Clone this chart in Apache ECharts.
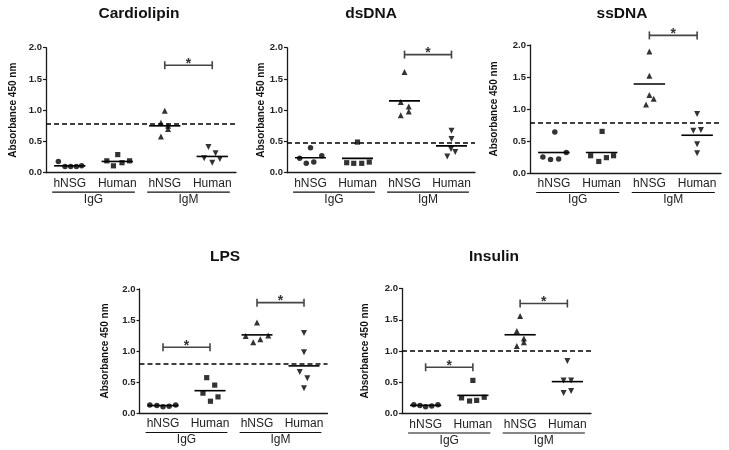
<!DOCTYPE html>
<html>
<head>
<meta charset="utf-8">
<script src="https://cdn.jsdelivr.net/npm/echarts@6/dist/echarts.min.js"></script>
<style>html,body{margin:0;padding:0;background:#fff}#c{width:729px;height:450px}</style>
</head>
<body>
<div id="c"></div>
<script>
// ---------- data ----------
const panelTitles = ['Cardiolipin', 'dsDNA', 'ssDNA', 'LPS', 'Insulin'];
const categories = ['hNSG', 'Human', 'hNSG', 'Human'];
const groupLabels = ['IgG', 'IgM'];
const yAxisName = 'Absorbance 450 nm';
const yTicks = [0.0, 0.5, 1.0, 1.5, 2.0];

// order of groups: hNSG IgG, Human IgG, hNSG IgM, Human IgM
const cardiolipinValues = [
  [0.18, 0.10, 0.10, 0.10, 0.11],
  [0.19, 0.11, 0.29, 0.16, 0.19],
  [0.99, 0.80, 0.75, 0.70, 0.58],
  [0.41, 0.31, 0.23, 0.22, 0.16]
];
const cardiolipinJitter = [
  [-0.24, -0.10, 0.02, 0.14, 0.25],
  [-0.22, -0.08, 0.01, 0.10, 0.26],
  [0.00, -0.08, 0.07, 0.07, -0.08],
  [-0.08, 0.07, -0.17, 0.16, 0.00]
];
const cardiolipinMeans = [0.11, 0.18, 0.75, 0.26];
const cardiolipinCutoff = 0.78;
const cardiolipinSig = [[2, 3, 1.72]];

const dsDNAValues = [
  [0.23, 0.40, 0.15, 0.17, 0.27],
  [0.49, 0.16, 0.15, 0.15, 0.17],
  [1.61, 1.13, 1.06, 0.98, 0.92],
  [0.67, 0.54, 0.38, 0.33, 0.26]
];
const dsDNAJitter = [
  [-0.23, 0.00, -0.09, 0.07, 0.24],
  [0.00, -0.23, -0.08, 0.09, 0.25],
  [0.00, -0.08, 0.09, 0.09, -0.08],
  [0.00, 0.00, -0.01, 0.08, -0.09]
];
const dsDNAMeans = [0.24, 0.23, 1.15, 0.43];
const dsDNACutoff = 0.48;
const dsDNASig = [[2, 3, 1.89]];

const ssDNAValues = [
  [0.64, 0.25, 0.21, 0.22, 0.32],
  [0.65, 0.27, 0.18, 0.24, 0.27],
  [1.90, 1.52, 1.22, 1.16, 1.07],
  [0.92, 0.66, 0.67, 0.45, 0.31]
];
const ssDNAJitter = [
  [0.02, -0.23, -0.07, 0.10, 0.26],
  [0.01, -0.23, -0.06, 0.10, 0.25],
  [0.00, 0.00, 0.00, 0.09, -0.07],
  [0.00, -0.08, 0.08, 0.00, 0.00]
];
const ssDNAMeans = [0.32, 0.32, 1.39, 0.59];
const ssDNACutoff = 0.78;
const ssDNASig = [[2, 3, 2.15]];

const lpsValues = [
  [0.13, 0.12, 0.10, 0.11, 0.13],
  [0.57, 0.45, 0.32, 0.26, 0.19],
  [1.46, 1.24, 1.25, 1.19, 1.14],
  [1.29, 0.98, 0.66, 0.56, 0.40]
];
const lpsJitter = [
  [-0.28, -0.13, 0.00, 0.13, 0.27],
  [-0.07, 0.10, -0.15, 0.17, 0.01],
  [0.00, -0.24, 0.24, 0.07, -0.08],
  [0.00, 0.00, -0.09, 0.07, 0.00]
];
const lpsMeans = [0.12, 0.36, 1.26, 0.76];
const lpsCutoff = 0.80;
const lpsSig = [[0, 1, 1.06], [2, 3, 1.78]];

const insulinValues = [
  [0.14, 0.13, 0.11, 0.12, 0.14],
  [0.53, 0.25, 0.20, 0.21, 0.26],
  [1.56, 1.32, 1.20, 1.14, 1.08],
  [0.84, 0.53, 0.53, 0.33, 0.36]
];
const insulinJitter = [
  [-0.25, -0.12, 0.00, 0.13, 0.26],
  [0.00, -0.24, -0.07, 0.08, 0.24],
  [0.00, -0.07, 0.08, 0.08, -0.07],
  [0.00, -0.08, 0.08, -0.08, 0.08]
];
const insulinMeans = [0.13, 0.29, 1.26, 0.51];
const insulinCutoff = 1.01;
const insulinSig = [[0, 1, 0.74], [2, 3, 1.76]];

// ---------- layout ----------
const panelData = [
  {values: cardiolipinValues, jitter: cardiolipinJitter, means: cardiolipinMeans, cutoff: cardiolipinCutoff, sig: cardiolipinSig},
  {values: dsDNAValues, jitter: dsDNAJitter, means: dsDNAMeans, cutoff: dsDNACutoff, sig: dsDNASig},
  {values: ssDNAValues, jitter: ssDNAJitter, means: ssDNAMeans, cutoff: ssDNACutoff, sig: ssDNASig},
  {values: lpsValues, jitter: lpsJitter, means: lpsMeans, cutoff: lpsCutoff, sig: lpsSig},
  {values: insulinValues, jitter: insulinJitter, means: insulinMeans, cutoff: insulinCutoff, sig: insulinSig}
];
const grids = [
  {left: 46, top: 47.7, width: 190, height: 125},
  {left: 287, top: 47.7, width: 188, height: 125},
  {left: 530, top: 45, width: 191, height: 128},
  {left: 139.5, top: 289, width: 188, height: 124},
  {left: 402, top: 288.5, width: 189, height: 125}
];
const titlePos = [[134, 1], [366, 1], [617, 1], [220, 244], [489, 244]];
const nameGaps = [28, 19, 31, 29, 32];

const FONT = 'Liberation Sans, Arial, Helvetica, sans-serif';
const INK = '#1a1a1a';
const symbols = [
  {symbol: 'circle', size: 5.5, rotate: 0},
  {symbol: 'rect', size: 5.2, rotate: 0},
  {symbol: 'triangle', size: 6, rotate: 0},
  {symbol: 'triangle', size: 6, rotate: 180}
];

const option = {
  backgroundColor: '#fff',
  animation: false,
  title: [], grid: [], xAxis: [], yAxis: [], series: []
};

panelData.forEach((pd, p) => {
  option.title.push({
    text: panelTitles[p], left: titlePos[p][0], top: titlePos[p][1], textAlign: 'center',
    textStyle: {fontFamily: FONT, fontSize: 15.5, fontWeight: 'bold', color: '#111'}
  });
  option.grid.push(Object.assign({containLabel: false}, grids[p]));
  option.xAxis.push({
    type: 'category', gridIndex: p, data: categories.map((c, i) => String(i)),
    axisTick: {show: false},
    axisLine: {onZero: false, lineStyle: {color: INK, width: 1.3}},
    axisLabel: {interval: 0, formatter: (v, i) => categories[i], margin: 5, fontFamily: FONT, fontSize: 12, color: '#222'},
    splitLine: {show: false}
  });
  option.xAxis.push({
    type: 'value', gridIndex: p, min: -0.5, max: 3.5, show: false
  });
  option.yAxis.push({
    type: 'value', gridIndex: p, min: yTicks[0], max: yTicks[yTicks.length - 1], interval: 0.5,
    name: yAxisName, nameLocation: 'middle', nameRotate: 90, nameGap: nameGaps[p],
    nameTextStyle: {fontFamily: FONT, fontSize: 10, fontWeight: 'bold', color: '#111'},
    axisLine: {show: true, onZero: false, lineStyle: {color: INK, width: 1.3}},
    axisTick: {show: true, length: 3, lineStyle: {color: INK, width: 1.2}},
    axisLabel: {formatter: v => v.toFixed(1), margin: 4, fontFamily: FONT, fontSize: 9.5, fontWeight: 'bold', color: '#222'},
    splitLine: {show: false}
  });
  const xi = 2 * p + 1;
  // scatter points
  pd.values.forEach((vals, g) => {
    const s = {
      type: 'scatter', xAxisIndex: xi, yAxisIndex: p,
      symbol: symbols[g].symbol, symbolSize: symbols[g].size, symbolRotate: symbols[g].rotate,
      itemStyle: {color: '#000'},
      data: vals.map((v, k) => [g + pd.jitter[g][k], v]),
      z: 3
    };
    if (g === 0) {
      s.markLine = {
        silent: true, symbol: 'none', animation: false,
        label: {show: false},
        lineStyle: {color: '#000', width: 1.5, type: [5, 3]},
        data: [{yAxis: pd.cutoff}]
      };
    }
    option.series.push(s);
  });
  // mean lines
  option.series.push({
    type: 'custom', xAxisIndex: xi, yAxisIndex: p, clip: false, z: 4,
    data: pd.means.map((m, g) => [g, m]),
    renderItem: (params, api) => {
      const a = api.coord([api.value(0) - 0.33, api.value(1)]);
      const b = api.coord([api.value(0) + 0.33, api.value(1)]);
      return {type: 'line', shape: {x1: a[0], y1: a[1], x2: b[0], y2: b[1]}, style: {stroke: '#000', lineWidth: 1.6}};
    }
  });
  // significance brackets
  option.series.push({
    type: 'custom', xAxisIndex: xi, yAxisIndex: p, clip: false, z: 4,
    data: pd.sig,
    renderItem: (params, api) => {
      const a = api.coord([api.value(0), api.value(2)]);
      const b = api.coord([api.value(1), api.value(2)]);
      const st = {stroke: '#444', lineWidth: 1.6};
      return {type: 'group', children: [
        {type: 'line', shape: {x1: a[0], y1: a[1], x2: b[0], y2: b[1]}, style: st},
        {type: 'line', shape: {x1: a[0], y1: a[1] - 4, x2: a[0], y2: a[1] + 4}, style: st},
        {type: 'line', shape: {x1: b[0], y1: b[1] - 4, x2: b[0], y2: b[1] + 4}, style: st},
        {type: 'text', style: {text: '*', x: (a[0] + b[0]) / 2, y: a[1] - 1, align: 'center', verticalAlign: 'middle',
          font: 'bold 14px ' + FONT, fill: '#333'}}
      ]};
    }
  });
  // group underlines and labels
  option.series.push({
    type: 'custom', xAxisIndex: xi, yAxisIndex: p, clip: false, z: 4,
    data: [[0, 1], [2, 3]],
    renderItem: (params, api) => {
      const a = api.coord([api.value(0) - 0.37, 0]);
      const b = api.coord([api.value(1) + 0.37, 0]);
      const y = a[1] + 19.5;
      return {type: 'group', children: [
        {type: 'line', shape: {x1: a[0], y1: y, x2: b[0], y2: y}, style: {stroke: '#111', lineWidth: 1.2}},
        {type: 'text', style: {text: groupLabels[params.dataIndex], x: (a[0] + b[0]) / 2, y: y + 1.5,
          align: 'center', verticalAlign: 'top', font: '12px ' + FONT, fill: '#222'}}
      ]};
    }
  });
});

const chart = echarts.init(document.getElementById('c'), null, {renderer: 'canvas'});
chart.setOption(option);
</script>
</body>
</html>
